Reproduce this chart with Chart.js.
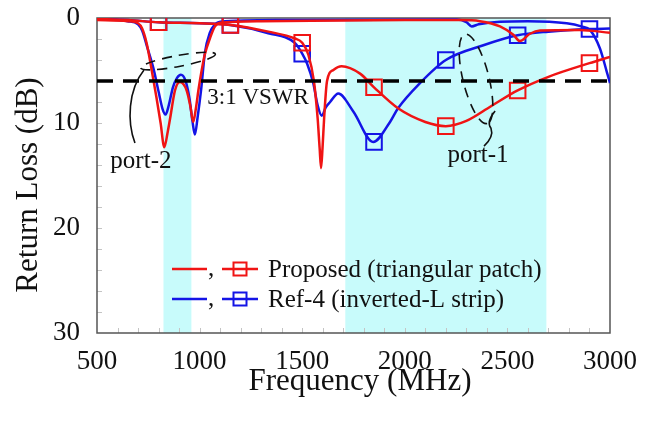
<!DOCTYPE html>
<html>
<head>
<meta charset="utf-8">
<script src="https://cdn.jsdelivr.net/npm/chart.js@4.4.1/dist/chart.umd.min.js"></script>
<style>
  html, body { margin: 0; padding: 0; background: #fff; }
</style>
</head>
<body>
<canvas id="rlChart" width="651" height="422"></canvas>
<script>
// frequency in MHz, return loss in dB (axis reversed, 0 at top)
const xTicks = [500, 1000, 1500, 2000, 2500, 3000];
const yTicks = [0, 10, 20, 30];
const bands = [[824, 960], [1710, 2690]];
const vswrLevel = 6;

// square markers on the port-1 traces
const markerFreq = [800, 1150, 1500, 1850, 2200, 2550, 2900];
const markerProposed = [0.4, 0.67, 2.35, 6.6, 10.3, 6.9, 4.3];
const markerRef4 = [0.4, 0.67, 3.4, 11.8, 4.0, 1.65, 1.05];

// Proposed, port-1
const freqProp1 = [500, 650, 800, 1000, 1150, 1335, 1465, 1500, 1530, 1557, 1575, 1585, 1592, 1599, 1607, 1621, 1652, 1692, 1782, 1850, 1967, 2100, 2200, 2300, 2420, 2550, 2700, 2900, 3000];
const lossProp1 = [0.1, 0.2, 0.4, 0.5, 0.67, 1.3, 1.95, 2.35, 3.5, 6.0, 9.5, 12.4, 14.3, 12.4, 9.5, 6.0, 4.95, 4.6, 5.3, 6.6, 8.6, 9.9, 10.3, 9.8, 8.4, 6.9, 5.6, 4.3, 3.7];

// Proposed, port-2
const freqProp2 = [500, 650, 700, 720, 742, 766, 790, 810, 828, 845, 856, 880, 904, 937, 955, 969, 982, 994, 1010, 1025, 1051, 1075, 1100, 1300, 2000, 2270, 2366, 2464, 2529, 2561, 2610, 2659, 2850, 3000];
const lossProp2 = [0.2, 0.3, 0.5, 1.0, 2.4, 4.9, 7.6, 10.0, 12.3, 10.8, 9.6, 6.9, 6.1, 6.9, 8.4, 9.9, 8.6, 6.9, 5.0, 3.5, 1.9, 0.8, 0.45, 0.3, 0.2, 0.2, 0.3, 0.8, 1.6, 2.2, 1.5, 1.2, 1.15, 1.4];

// Ref-4, port-1
const freqRef1 = [500, 650, 800, 1000, 1150, 1335, 1465, 1500, 1525, 1554, 1575, 1595, 1615, 1636, 1676, 1749, 1846, 1928, 1967, 2074, 2200, 2383, 2550, 2700, 2900, 3000];
const lossRef1 = [0.1, 0.2, 0.4, 0.5, 0.67, 1.45, 2.4, 3.4, 4.4, 6.2, 8.3, 9.3, 8.5, 8.0, 7.2, 8.9, 11.8, 9.9, 8.6, 6.2, 4.0, 2.6, 1.65, 1.3, 1.05, 1.0];

// Ref-4, port-2
const freqRef2 = [500, 650, 700, 720, 745, 775, 800, 820, 834, 850, 870, 890, 909, 930, 950, 965, 977, 990, 1007, 1026, 1050, 1075, 1100, 1400, 2253, 2300, 2326, 2360, 2464, 2600, 2789, 2860, 2903, 2951, 2984, 3000];
const lossRef2 = [0.1, 0.3, 0.6, 1.2, 2.8, 4.8, 7.0, 8.7, 9.2, 8.3, 6.6, 5.7, 5.4, 5.9, 7.6, 9.8, 11.1, 9.5, 6.9, 3.3, 1.4, 0.6, 0.35, 0.2, 0.15, 0.4, 0.8, 0.6, 0.35, 0.3, 0.5, 0.8, 1.15, 2.9, 5.1, 6.2];

const RED = '#f01414';
const BLUE = '#1414e6';
const SERIF = '"Liberation Serif", "Times New Roman", serif';

const pts = (xs, ys) => xs.map((x, i) => ({ x: x, y: ys[i] }));

function curve(xs, ys, color) {
    return {
        data: pts(xs, ys),
        borderColor: color,
        borderWidth: 2.5,
        pointRadius: 0,
        showLine: true,
        cubicInterpolationMode: 'monotone'
    };
}

function markers(ys, color) {
    return {
        data: pts(markerFreq, ys),
        showLine: false,
        pointStyle: 'rect',
        pointRadius: 11,
        pointBorderWidth: 2,
        pointBorderColor: color,
        pointBackgroundColor: 'rgba(0,0,0,0)'
    };
}

// bands, frame and minor ticks under the traces
const backdrop = {
    id: 'backdrop',
    beforeDatasetsDraw(chart) {
        const { ctx, chartArea: a, scales: { x, y } } = chart;
        ctx.save();
        ctx.fillStyle = '#c8fbfb';
        bands.forEach(([f0, f1]) => {
            const x0 = x.getPixelForValue(f0), x1 = x.getPixelForValue(f1);
            ctx.fillRect(x0, a.top, x1 - x0, a.bottom - a.top);
        });
        ctx.strokeStyle = '#c4c4c4';
        ctx.lineWidth = 1;
        ctx.beginPath();
        for (let f = 600; f < 3000; f += 100) {
            const px = Math.round(x.getPixelForValue(f)) + 0.5;
            ctx.moveTo(px, a.bottom); ctx.lineTo(px, a.bottom - 5);
        }
        for (let d = 2; d < 30; d += 2) {
            const py = Math.round(y.getPixelForValue(d)) + 0.5;
            ctx.moveTo(a.left, py); ctx.lineTo(a.left + 5, py);
        }
        ctx.stroke();
        ctx.strokeStyle = '#555';
        ctx.lineWidth = 1.5;
        ctx.strokeRect(a.left, a.top, a.right - a.left, a.bottom - a.top);
        ctx.restore();
    }
};

// callouts, legend and axis titles
const overlay = {
    id: 'overlay',
    afterDraw(chart) {
        const { ctx, chartArea: a, scales: { x, y } } = chart;
        const P = (f, d) => [x.getPixelForValue(f), y.getPixelForValue(d)];
        ctx.save();
        ctx.fillStyle = '#111';
        ctx.strokeStyle = '#111';

        ctx.font = '23px ' + SERIF;
        ctx.textAlign = 'center';
        ctx.textBaseline = 'alphabetic';
        let p = P(1285, 8.2);
        ctx.fillText('3:1 VSWR', p[0], p[1]);

        ctx.font = '25px ' + SERIF;
        p = P(714, 14.3);
        ctx.fillText('port-2', p[0], p[1]);
        p = P(2357, 13.7);
        ctx.fillText('port-1', p[0], p[1]);

        // dashed ellipses
        ctx.lineWidth = 1.6;
        ctx.setLineDash([10, 7]);
        ctx.beginPath();
        p = P(895, 4.1);
        ctx.ellipse(p[0], p[1], 38, 5.5, -10.5 * Math.PI / 180, 0, Math.PI * 2);
        ctx.stroke();
        ctx.beginPath();
        p = P(2347, 5.8);
        ctx.ellipse(p[0], p[1], 46, 13, 76 * Math.PI / 180, 0, Math.PI * 2);
        ctx.stroke();

        // leaders
        ctx.setLineDash([]);
        ctx.lineWidth = 1.6;
        ctx.beginPath();
        let s = P(729, 4.95), c1 = P(651, 6.86), c2 = P(646, 9.9), e = P(685, 11.9);
        ctx.moveTo(s[0], s[1]);
        ctx.bezierCurveTo(c1[0], c1[1], c2[0], c2[1], e[0], e[1]);
        ctx.stroke();
        ctx.beginPath();
        s = P(2440, 8.86);
        let q1 = P(2396, 9.9), m = P(2420, 10.5), q2 = P(2435, 11.3);
        e = P(2386, 12.2);
        ctx.moveTo(s[0], s[1]);
        ctx.quadraticCurveTo(q1[0], q1[1], m[0], m[1]);
        ctx.quadraticCurveTo(q2[0], q2[1], e[0], e[1]);
        ctx.stroke();

        // legend
        const rows = [
            { color: RED, label: 'Proposed (triangular patch)', y: 269 },
            { color: BLUE, label: 'Ref-4 (inverted-L strip)', y: 299 }
        ];
        rows.forEach(r => {
            ctx.strokeStyle = r.color;
            ctx.lineWidth = 2.5;
            ctx.beginPath();
            ctx.moveTo(172, r.y); ctx.lineTo(207, r.y);
            ctx.moveTo(222, r.y); ctx.lineTo(258, r.y);
            ctx.stroke();
            ctx.lineWidth = 2;
            ctx.strokeRect(233.5, r.y - 6.5, 13, 13);
            ctx.fillStyle = '#111';
            ctx.font = '25px ' + SERIF;
            ctx.textAlign = 'left';
            ctx.textBaseline = 'alphabetic';
            ctx.fillText(',', 208, r.y + 7);
            ctx.textBaseline = 'middle';
            ctx.fillText(r.label, 268, r.y + 1);
        });

        // axis titles
        ctx.fillStyle = '#111';
        ctx.font = '31px ' + SERIF;
        ctx.textAlign = 'center';
        ctx.textBaseline = 'alphabetic';
        ctx.fillText('Frequency (MHz)', 360, 390);
        ctx.translate(29, 185);
        ctx.rotate(-Math.PI / 2);
        ctx.textBaseline = 'middle';
        ctx.fillText('Return Loss (dB)', 0, 0);
        ctx.restore();
    }
};

const tickFont = { family: SERIF, size: 27 };

new Chart(document.getElementById('rlChart'), {
    type: 'scatter',
    data: {
        datasets: [
            {
                data: [{ x: 500, y: vswrLevel }, { x: 3000, y: vswrLevel }],
                borderColor: '#000',
                borderWidth: 3.5,
                borderDash: [16, 10],
                pointRadius: 0,
                showLine: true
            },
            markers(markerProposed, RED),
            curve(freqProp1, lossProp1, RED),
            curve(freqProp2, lossProp2, RED),
            markers(markerRef4, BLUE),
            curve(freqRef1, lossRef1, BLUE),
            curve(freqRef2, lossRef2, BLUE)
        ]
    },
    options: {
        responsive: false,
        animation: false,
        events: [],
        layout: { padding: { top: 18, right: 41, left: 0, bottom: 0 } },
        plugins: { legend: { display: false }, tooltip: { enabled: false } },
        scales: {
            x: {
                type: 'linear',
                min: 500,
                max: 3000,
                grid: { display: false },
                border: { display: false },
                afterBuildTicks: s => { s.ticks = xTicks.map(v => ({ value: v })); },
                afterFit: s => { s.height = 89; s.paddingLeft = 0; s.paddingRight = 0; },
                ticks: { padding: 5, color: '#111', font: tickFont, maxRotation: 0, autoSkip: false, callback: v => String(v) }
            },
            y: {
                type: 'linear',
                reverse: true,
                min: 0,
                max: 30,
                grid: { display: false },
                border: { display: false },
                afterBuildTicks: s => { s.ticks = yTicks.map(v => ({ value: v })); },
                afterFit: s => { s.width = 97; s.paddingTop = 0; s.paddingBottom = 0; },
                ticks: { padding: 9, color: '#111', font: tickFont, callback: v => String(v) }
            }
        }
    },
    plugins: [backdrop, overlay]
});
</script>
</body>
</html>
